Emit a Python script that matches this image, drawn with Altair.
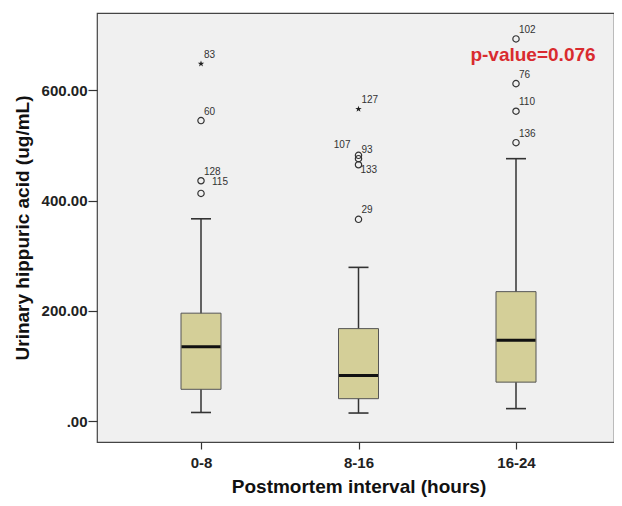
import altair as alt
import pandas as pd

# ---- data ----
categories = ["0-8", "8-16", "16-24"]
whisker_low = [16, 15, 23]
q1 = [58, 41, 71]
median = [135, 83, 147]
q3 = [196, 168, 235]
whisker_high = [367, 279, 476]

outlier_cat = ["0-8", "0-8", "0-8", "0-8",
               "8-16", "8-16", "8-16", "8-16", "8-16",
               "16-24", "16-24", "16-24", "16-24"]
outlier_val = [413, 436, 545, 648,
               366, 465, 476, 482, 566,
               505, 562, 612, 693]
outlier_id = ["115", "128", "60", "83",
              "29", "133", "93", "107", "127",
              "136", "110", "76", "102"]
outlier_kind = ["circle", "circle", "circle", "star",
                "circle", "circle", "circle", "circle", "star",
                "circle", "circle", "circle", "circle"]

p_text = "p-value=0.076"

boxes = pd.DataFrame({"cat": categories, "lo": whisker_low, "q1": q1,
                      "med": median, "q3": q3, "hi": whisker_high})
outs = pd.DataFrame({"cat": outlier_cat, "val": outlier_val,
                     "id": outlier_id, "kind": outlier_kind})

FONT = "Liberation Sans"
Y_DOMAIN = [-37.5, 740]
x = alt.X("cat:N", sort=categories,
          scale=alt.Scale(type="point", range=[104, 419], padding=0),
          axis=alt.Axis(title="Postmortem interval (hours)", labelAngle=0,
                        domain=False, tickSize=7, tickColor="#333", tickWidth=1.2,
                        labelFontSize=15, labelFontWeight="bold",
                        labelColor="#222", labelPadding=6,
                        titleFontSize=19, titleFontWeight="bold",
                        titleColor="#111", titlePadding=7))
yscale = alt.Scale(domain=Y_DOMAIN, nice=False, zero=False)
yaxis = alt.Axis(title="Urinary hippuric acid (ug/mL)", values=[0, 200, 400, 600],
                 labelExpr="datum.value == 0 ? '.00' : format(datum.value, '.2f')",
                 domain=False, grid=False, tickSize=9, tickColor="#333", tickWidth=1.2,
                 labelFontSize=15, labelFontWeight="bold", labelColor="#222",
                 labelPadding=1,
                 titleFontSize=19, titleFontWeight="bold", titleColor="#111",
                 titlePadding=9)

base = alt.Chart(boxes)

whisk = base.mark_rule(color="#333", strokeWidth=1.5).encode(
    x=x, y=alt.Y("lo:Q", scale=yscale, axis=yaxis), y2="hi:Q")
box = base.mark_bar(size=40, fill="#D4CF98", stroke="#555", strokeWidth=1).encode(
    x=x, y=alt.Y("q1:Q", scale=yscale), y2="q3:Q")
cap_lo = base.mark_tick(size=20, thickness=1.6, color="#333", opacity=1).encode(
    x=x, y=alt.Y("lo:Q", scale=yscale))
cap_hi = base.mark_tick(size=20, thickness=1.6, color="#333", opacity=1).encode(
    x=x, y=alt.Y("hi:Q", scale=yscale))
med = base.mark_tick(size=39, thickness=3, color="#111", opacity=1).encode(
    x=x, y=alt.Y("med:Q", scale=yscale))

obase = alt.Chart(outs)
circles = obase.transform_filter(alt.datum.kind == "circle").mark_point(
    shape="circle", size=40, filled=False, color="#333", strokeWidth=1.2, opacity=1
).encode(x=x, y=alt.Y("val:Q", scale=yscale))
STAR = ("M0,-1L0.235,-0.324L0.951,-0.309L0.38,0.124L0.588,0.809L0,0.4"
        "L-0.588,0.809L-0.38,0.124L-0.951,-0.309L-0.235,-0.324Z")
stars = obase.transform_filter(alt.datum.kind == "star").mark_point(
    shape=STAR, size=45, filled=True, color="#222", opacity=1
).encode(x=x, y=alt.Y("val:Q", scale=yscale))

LEFT_IDS = ["107"]
RIGHT_IDS = ["133"]
SIDE_IDS = ["115"]
special = LEFT_IDS + RIGHT_IDS + SIDE_IDS

def lab(filter_expr, **kw):
    return obase.transform_filter(filter_expr).mark_text(
        fontSize=10, color="#333", font=FONT, **kw
    ).encode(x=x, y=alt.Y("val:Q", scale=yscale), text="id:N")

lab_default = lab(~alt.FieldOneOfPredicate(field="id", oneOf=special),
                  align="left", baseline="alphabetic", dx=3, dy=-6)
lab_left = lab(alt.FieldOneOfPredicate(field="id", oneOf=LEFT_IDS),
               align="right", baseline="alphabetic", dx=-8, dy=-7)
lab_right = lab(alt.FieldOneOfPredicate(field="id", oneOf=RIGHT_IDS),
                align="left", baseline="alphabetic", dx=2, dy=8)
lab_side = lab(alt.FieldOneOfPredicate(field="id", oneOf=SIDE_IDS),
               align="left", baseline="alphabetic", dx=11, dy=-8)

ptext = alt.Chart(pd.DataFrame({"t": [p_text]})).mark_text(
    fontSize=19, fontWeight="bold", color="#D92B2F", font=FONT,
    align="center", baseline="middle"
).encode(x=alt.value(436), y=alt.value(42), text="t:N")

chart = alt.layer(whisk, box, cap_lo, cap_hi, med, circles, stars,
                  lab_default, lab_left, lab_right, lab_side, ptext).properties(
    width=517, height=429,
    autosize=alt.AutoSizeParams(type="none"),
    padding={"left": 89, "top": 5, "right": 0, "bottom": 56},
    background="white",
).configure_view(
    fill="#F0F0F0", stroke="#444", strokeWidth=1.2
).configure_axis(
    labelFont=FONT, titleFont=FONT
)

chart.save("out.html", embed_options={"renderer": "svg", "actions": False})
